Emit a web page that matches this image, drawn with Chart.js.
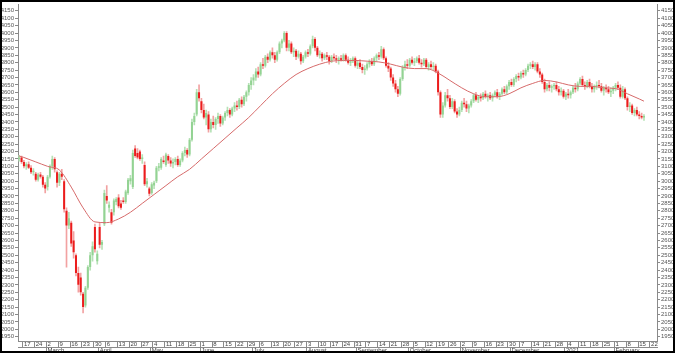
<!DOCTYPE html>
<html>
<head>
<meta charset="utf-8">
<script src="https://cdn.jsdelivr.net/npm/chart.js@4.4.1/dist/chart.umd.min.js"></script>
<style>
  html, body { margin: 0; padding: 0; background: #fff; }
  #wrap { position: relative; width: 675px; height: 353px; }
  #frame { position: absolute; left: 0; top: 0; width: 675px; height: 353px;
           box-sizing: border-box; border: 2px solid #000; pointer-events: none; }
</style>
</head>
<body>
<div id="wrap"><canvas id="chart"></canvas><div id="frame"></div></div>
<script>
// daily candles, one per weekday from firstDay
const firstDay = '2020-02-13';
const dayCount = 270;   // axis runs a few empty days past the last candle

const open = [
  3150,3160,3130,3100,3115,3090,3060,3050,3010,3045,
  3030,2975,2960,3030,3100,3150,3060,2990,3050,3000,
  2800,2700,2720,2600,2500,2380,2350,2240,2160,2280,
  2420,2500,2690,2460,2690,2570,2710,2900,2820,2790,
  2790,2860,2890,2850,2870,2860,2920,3000,2960,3220,
  3190,3200,3150,3110,2980,2950,2920,2970,3000,3090,
  3090,3140,3110,3170,3140,3120,3130,3150,3110,3140,
  3190,3210,3180,3280,3400,3450,3600,3540,3480,3430,
  3450,3350,3400,3380,3420,3440,3390,3430,3460,3480,
  3450,3490,3510,3500,3550,3520,3570,3600,3650,3680,
  3700,3740,3720,3790,3780,3840,3820,3870,3850,3820,
  3870,3930,3950,4000,3900,3930,3870,3880,3840,3860,
  3810,3840,3870,3860,3910,3960,3900,3850,3860,3830,
  3850,3840,3810,3840,3830,3820,3830,3820,3850,3820,
  3800,3810,3830,3780,3800,3770,3750,3760,3790,3810,
  3790,3830,3850,3840,3890,3830,3780,3760,3700,3660,
  3620,3590,3690,3770,3790,3780,3820,3800,3810,3830,
  3800,3790,3820,3770,3790,3770,3780,3740,3600,3450,
  3510,3580,3560,3500,3540,3470,3450,3480,3530,3520,
  3490,3510,3540,3580,3550,3570,3560,3590,3570,3580,
  3560,3580,3600,3570,3590,3620,3600,3640,3670,3650,
  3690,3710,3700,3730,3720,3750,3780,3790,3770,3790,
  3740,3720,3670,3620,3650,3630,3640,3650,3620,3600,
  3610,3570,3590,3580,3600,3630,3620,3660,3690,3650,
  3640,3670,3640,3620,3640,3650,3640,3610,3630,3620,
  3600,3610,3630,3650,3630,3570,3620,3560,3500,3510,
  3460,3480,3450,3440,3430
];
const high = [
  3175,3170,3140,3125,3130,3105,3085,3060,3055,3060,
  3040,2990,3040,3110,3170,3160,3070,3060,3080,3010,
  2820,2790,2730,2660,2510,2420,2380,2250,2290,2430,
  2520,2590,2710,2530,2720,2600,2940,2970,2860,2810,
  2880,2890,2910,2870,2890,2940,3020,3040,3210,3240,
  3220,3210,3180,3130,3020,2960,2990,3000,3100,3120,
  3160,3170,3190,3180,3160,3150,3160,3170,3150,3200,
  3230,3220,3290,3420,3460,3620,3650,3560,3520,3480,
  3470,3420,3440,3430,3460,3450,3440,3470,3500,3490,
  3500,3530,3540,3560,3570,3580,3610,3660,3700,3720,
  3760,3770,3800,3830,3850,3860,3880,3900,3870,3880,
  3940,3960,4010,4010,3950,3940,3900,3890,3880,3870,
  3850,3880,3890,3920,3980,3970,3910,3880,3870,3860,
  3870,3850,3850,3860,3850,3840,3850,3860,3860,3840,
  3830,3840,3840,3810,3820,3790,3780,3800,3820,3830,
  3840,3860,3870,3910,3900,3840,3800,3770,3720,3680,
  3640,3700,3780,3810,3820,3830,3840,3830,3840,3850,
  3820,3830,3830,3800,3810,3800,3790,3750,3610,3530,
  3600,3620,3580,3560,3550,3490,3500,3540,3560,3540,
  3520,3550,3590,3600,3580,3590,3600,3610,3590,3600,
  3590,3610,3620,3600,3630,3640,3650,3680,3690,3700,
  3720,3730,3740,3750,3760,3790,3800,3810,3800,3800,
  3760,3730,3690,3660,3670,3650,3660,3670,3640,3630,
  3620,3600,3620,3610,3640,3660,3670,3700,3710,3670,
  3680,3690,3660,3650,3670,3680,3660,3640,3650,3640,
  3630,3640,3660,3670,3650,3640,3630,3570,3530,3520,
  3490,3500,3470,3460,3450
];
const low = [
  3135,3120,3090,3080,3085,3050,3040,3000,3000,3020,
  2960,2920,2940,3020,3080,3060,2960,2970,3010,2790,
  2420,2680,2560,2480,2360,2250,2230,2110,2150,2270,
  2400,2460,2520,2440,2550,2540,2700,2850,2790,2710,
  2770,2840,2820,2810,2850,2850,2910,2980,2950,3160,
  3150,3140,3120,2970,2960,2900,2910,2950,2990,3070,
  3080,3120,3100,3120,3100,3090,3110,3100,3100,3130,
  3170,3160,3170,3270,3380,3440,3540,3460,3420,3380,
  3330,3330,3360,3350,3390,3370,3380,3410,3440,3430,
  3440,3470,3480,3490,3500,3510,3540,3580,3620,3650,
  3680,3700,3710,3760,3770,3800,3810,3830,3800,3810,
  3860,3900,3940,3880,3880,3860,3840,3820,3830,3790,
  3800,3830,3840,3850,3900,3880,3840,3830,3810,3820,
  3820,3790,3800,3820,3800,3790,3810,3810,3810,3790,
  3780,3800,3770,3760,3760,3730,3720,3750,3770,3780,
  3780,3810,3820,3830,3820,3770,3740,3680,3640,3600,
  3570,3580,3680,3750,3760,3770,3790,3780,3800,3790,
  3770,3780,3760,3750,3760,3750,3730,3580,3430,3430,
  3500,3540,3490,3490,3460,3430,3440,3470,3500,3470,
  3460,3500,3530,3540,3530,3540,3550,3560,3540,3550,
  3540,3570,3560,3550,3580,3590,3590,3620,3640,3640,
  3670,3680,3690,3700,3710,3740,3760,3760,3750,3730,
  3700,3660,3600,3610,3610,3600,3620,3610,3580,3580,
  3560,3550,3560,3560,3590,3600,3610,3650,3640,3620,
  3630,3630,3600,3600,3620,3630,3600,3580,3600,3590,
  3570,3590,3610,3620,3560,3560,3550,3480,3470,3450,
  3440,3440,3420,3420,3410
];
const close = [
  3160,3130,3100,3115,3090,3060,3070,3010,3045,3030,
  2975,2950,3030,3100,3150,3080,2990,3050,3030,2810,
  2700,2750,2580,2520,2380,2300,2250,2150,2280,2420,
  2500,2560,2540,2510,2570,2590,2920,2870,2840,2720,
  2870,2880,2830,2820,2860,2930,3010,3020,3190,3170,
  3160,3150,3160,2980,3000,2915,2980,2990,3090,3100,
  3150,3130,3180,3140,3120,3130,3150,3110,3140,3190,
  3210,3180,3280,3400,3440,3600,3560,3480,3430,3460,
  3350,3400,3380,3420,3440,3390,3430,3460,3480,3450,
  3490,3510,3500,3550,3520,3570,3600,3650,3680,3700,
  3740,3720,3790,3780,3840,3820,3870,3850,3820,3870,
  3930,3950,4000,3900,3930,3870,3880,3840,3860,3810,
  3840,3870,3860,3910,3960,3900,3850,3860,3830,3850,
  3840,3810,3840,3830,3820,3830,3820,3850,3820,3800,
  3810,3830,3780,3800,3770,3750,3760,3790,3810,3790,
  3830,3850,3840,3890,3830,3780,3760,3700,3660,3620,
  3590,3690,3770,3790,3780,3820,3800,3810,3830,3800,
  3790,3820,3770,3790,3770,3780,3740,3600,3450,3510,
  3580,3560,3500,3540,3470,3450,3480,3530,3520,3490,
  3510,3540,3580,3550,3570,3560,3590,3570,3580,3560,
  3580,3600,3570,3590,3620,3600,3640,3670,3650,3690,
  3710,3700,3730,3720,3750,3780,3790,3770,3790,3740,
  3720,3670,3620,3650,3630,3640,3650,3620,3600,3610,
  3570,3590,3580,3600,3630,3620,3660,3690,3650,3640,
  3670,3640,3620,3640,3650,3640,3610,3630,3620,3600,
  3610,3630,3650,3630,3570,3620,3560,3500,3510,3460,
  3480,3450,3440,3430,3440
];

// moving average, read at the first candle, every Monday, and the last candle
const avgStart = 3170;
const avgMonday = [
  3160,3130,3100,3075,2960,2820,2725,2720,2745,2790,
  2850,2910,2970,3030,3080,3150,3220,3290,3360,3430,
  3510,3590,3660,3720,3760,3790,3810,3815,3815,3810,
  3805,3790,3770,3760,3760,3730,3680,3630,3590,3570,
  3570,3590,3630,3660,3680,3670,3650,3640,3640,3630,
  3625,3590,3555
];
const avgEnd = 3540;

const monthNames = {
  '2020-03': 'March', '2020-04': 'April', '2020-05': 'May', '2020-06': 'June',
  '2020-07': 'July', '2020-08': 'August', '2020-09': 'September', '2020-10': 'October',
  '2020-11': 'November', '2020-12': 'December', '2021-01': '2021', '2021-02': 'February'
};

const yMin = 1921, yMax = 4192, yStep = 50;

// build the weekday categories
const days = [];
const cur = new Date(firstDay + 'T00:00:00Z');
while (days.length < dayCount) {
  const wd = cur.getUTCDay();
  if (wd !== 0 && wd !== 6) days.push(cur.toISOString().slice(0, 10));
  cur.setUTCDate(cur.getUTCDate() + 1);
}
const weekday = i => new Date(days[i] + 'T00:00:00Z').getUTCDay();
const isWeekStart = i => i > 0 && i < days.length && weekday(i) === 1;
const isMonthStart = i => i > 0 && i < days.length &&
  days[i].slice(0, 7) !== days[i - 1].slice(0, 7) && monthNames[days[i].slice(0, 7)];

const bodies = open.map((o, i) => [o, close[i]]);
const wicks = low.map((l, i) => [l, high[i]]);
const up = i => close[i] >= open[i];

const avgData = [];
let w = 0;
for (let i = 0; i < close.length; i++) {
  if (i === 0) avgData.push(avgStart);
  else if (i === close.length - 1) avgData.push(avgEnd);
  else if (weekday(i) === 1 && w < avgMonday.length) avgData.push(avgMonday[w++]);
  else avgData.push(null);
}

const tickFont = { family: 'Liberation Sans', size: 6 };
const lineCol = '#8a8a8a';

const yAxis = (pos) => ({
  position: pos,
  min: yMin, max: yMax,
  afterFit: s => { s.width = 18; },
  grid: { drawOnChartArea: false, tickLength: 3, color: lineCol },
  border: { color: lineCol },
  ticks: { stepSize: yStep, includeBounds: false, autoSkip: false, padding: 1,
           font: tickFont, color: '#555', callback: v => String(v) }
});

const xAxis = (weight, isMark, label) => ({
  type: 'category',
  position: 'bottom',
  weight,
  offset: true,
  afterFit: s => { s.height = 6; },
  grid: { offset: true, drawOnChartArea: false, tickLength: 6,
          color: c => isMark(c.index) ? lineCol : 'rgba(0,0,0,0)' },
  border: { color: lineCol },
  ticks: { autoSkip: false, maxRotation: 0, minRotation: 0, align: 'start', padding: -6.5,
           font: tickFont, color: '#444', callback: (v, i) => label(i) }
});

new Chart(document.getElementById('chart'), {
  type: 'bar',
  data: {
    labels: days,
    datasets: [
      {
        type: 'line', data: avgData, spanGaps: true, order: 1,
        borderColor: '#d66a6a', borderWidth: 1, pointRadius: 0,
        cubicInterpolationMode: 'monotone'
      },
      {
        data: bodies, grouped: false, order: 2,
        barPercentage: 0.85, categoryPercentage: 1,
        backgroundColor: c => up(c.dataIndex) ? '#93d393' : '#ec1c1c'
      },
      {
        data: wicks, grouped: false, order: 3, barThickness: 1,
        backgroundColor: c => up(c.dataIndex) ? '#b6e2b6' : '#f2a2a2'
      }
    ]
  },
  options: {
    responsive: true,
    maintainAspectRatio: false,
    animation: false,
    devicePixelRatio: 1,
    layout: { padding: { top: 2, left: 0, right: 0, bottom: 0 } },
    plugins: { legend: { display: false }, tooltip: { enabled: false } },
    scales: {
      x: xAxis(0, isWeekStart, i => isWeekStart(i) ? String(+days[i].slice(8)) : ''),
      x2: xAxis(1, isMonthStart, i => isMonthStart(i) ? monthNames[days[i].slice(0, 7)] : ''),
      y: yAxis('left'),
      y2: yAxis('right')
    }
  }
});
</script>
</body>
</html>
